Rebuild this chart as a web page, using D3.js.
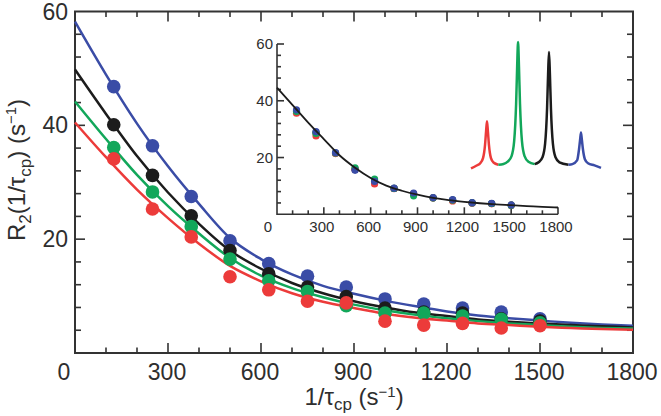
<!DOCTYPE html>
<html>
<head>
<meta charset="utf-8">
<script src="https://cdn.jsdelivr.net/npm/d3@7"></script>
<style>
  body { margin: 0; background: #fff; }
  svg { display: block; }
  text { font-family: "Liberation Sans Narrow", "Liberation Sans", Arial, sans-serif; fill: #2e2e2e; }
</style>
</head>
<body>
<div id="chart"></div>
<script>
// measured points, x in 1/tau_cp (s^-1)
var pointX = [125, 250, 375, 500, 625, 750, 875, 1000, 1125, 1250, 1375, 1500];
var bluePts = [46.8, 36.4, 27.5, 19.7, 15.7, 13.5, 11.6, 9.5, 8.6, 7.9, 7.2, 6.0];
var blackPts = [40.1, 31.2, 24.1, 18.0, 13.9, 11.6, 9.9, 7.9, 7.2, 7.0, 6.0, 5.6];
var greenPts = [36.1, 28.3, 22.2, 16.5, 12.7, 10.8, 8.3, 7.0, 7.0, 6.5, 5.9, 5.3];
var redPts = [34.1, 25.3, 20.4, 13.4, 11.1, 9.1, 8.8, 5.6, 4.9, 5.2, 4.4, 4.8];

// fitted curves
var curveX = [0, 100, 200, 300, 400, 500, 600, 700, 800, 900, 1000, 1100, 1200, 1300, 1400, 1500, 1600, 1700, 1800];
var blueFit = [58.2, 48.9, 40.3, 32.8, 26.2, 20.2, 16.5, 13.8, 11.8, 10.4, 9.2, 8.2, 7.3, 6.6, 6.1, 5.7, 5.3, 5.0, 4.8];
var blackFit = [49.8, 42.0, 34.6, 28.2, 22.7, 18.0, 14.8, 12.3, 10.5, 9.1, 8.0, 7.1, 6.5, 5.9, 5.5, 5.2, 4.9, 4.7, 4.5];
var greenFit = [44.2, 37.6, 31.3, 25.8, 21.0, 16.7, 13.6, 11.4, 9.8, 8.5, 7.5, 6.7, 6.1, 5.6, 5.2, 4.9, 4.6, 4.4, 4.3];
var redFit = [40.5, 34.4, 28.7, 23.7, 19.2, 15.3, 12.6, 10.5, 9.0, 7.9, 6.9, 6.2, 5.7, 5.2, 4.9, 4.6, 4.4, 4.2, 4.1];

// inset: scaled data collapsed onto one curve
var insetBlue = [36.8, 29.1, 21.7, 15.5, 11.6, 9.2, 7.5, 5.9, 5.2, 4.1, 3.9, 3.3];
var insetRed = [35.6, 27.6, 21.4, 15.8, 10.7, 9.0, 7.2, 5.8, 4.7, 3.9, 3.7, 3.2];
var insetGreen = [36.2, 28.5, 21.6, 16.4, 12.4, 9.1, 6.5, 5.8, 5.0, 4.0, 3.8, 3.2];
var insetBlack = [36.4, 28.8, 21.6, 15.8, 11.8, 9.1, 7.2, 5.8, 5.0, 4.0, 3.8, 3.2];
var insetFit = [44.6, 38.5, 32.3, 26.5, 20.8, 16.4, 12.8, 10.1, 8.3, 6.9, 5.8, 5.0, 4.4, 3.9, 3.5, 3.2, 2.9, 2.6, 2.4];

// spectrum segments [position, intensity], arbitrary units
var specRed = [[0, -2], [4, 0.2], [7.3, 2.5], [9.3, 6.5], [10.8, 17], [11.6, 28], [12.3, 36], [13, 28], [13.8, 17], [15.3, 6.5], [17.3, 2.8], [21, 1]];
var specGreen = [[21, 1], [25, 1.6], [28.2, 3.5], [31.2, 8], [33.2, 20], [34.7, 50], [35.5, 80], [36.2, 100], [36.9, 80], [37.7, 50], [39.2, 20], [41.2, 8], [44.2, 3.5], [49, 1.5]];
var specBlack = [[49, 1.5], [52, 3], [55, 7], [57, 18], [58.5, 46], [59.3, 74], [60, 92], [60.7, 74], [61.5, 46], [63, 18], [65, 7], [68, 3], [75, 1]];
var specBlue = [[75, 1], [78, 1.5], [81.6, 4.5], [83.1, 13.5], [83.9, 21], [84.6, 27], [85.3, 21], [86.1, 13.5], [87.6, 5.5], [90, 2.2], [95, 0.5], [100, -1.5]];

var xTicks = [0, 300, 600, 900, 1200, 1500, 1800];
var yTicks = [20, 40, 60];
var insetYTicks = [20, 40, 60];

var colors = { blue: '#3a4ca6', black: '#1c1c1c', green: '#12a75a', red: '#ec3b3a' };

var width = 661, height = 416;
var svg = d3.select('#chart').append('svg')
  .attr('width', width)
  .attr('height', height);

var x = d3.scaleLinear().domain([0, 1800]).range([75, 633]);
var y = d3.scaleLinear().domain([0, 60]).range([353, 11.5]);

var axisColor = '#333';

function drawTicks(g, scale, values, len, orient, pos) {
  values.forEach(function (v) {
    var p = scale(v);
    var line = g.append('line')
      .attr('stroke', axisColor)
      .attr('stroke-width', 1.6);
    if (orient === 'bottom') line.attr('x1', p).attr('x2', p).attr('y1', pos).attr('y2', pos - len);
    if (orient === 'top') line.attr('x1', p).attr('x2', p).attr('y1', pos).attr('y2', pos + len);
    if (orient === 'left') line.attr('y1', p).attr('y2', p).attr('x1', pos).attr('x2', pos + len);
    if (orient === 'right') line.attr('y1', p).attr('y2', p).attr('x1', pos).attr('x2', pos - len);
  });
}

// main frame
var frame = svg.append('g');
frame.append('rect')
  .attr('x', x(0))
  .attr('y', y(60))
  .attr('width', x(1800) - x(0))
  .attr('height', y(0) - y(60))
  .attr('fill', 'none')
  .attr('stroke', axisColor)
  .attr('stroke-width', 2);

var xMinor = d3.range(100, 1800, 100).filter(function (v) { return v % 300 !== 0; });
var xMajor = [300, 600, 900, 1200, 1500];
var yMinor = d3.range(4, 60, 4).filter(function (v) { return v % 20 !== 0; });
var yMajor = [20, 40];
drawTicks(frame, x, xMajor, 10, 'bottom', y(0));
drawTicks(frame, x, xMinor, 5.5, 'bottom', y(0));
drawTicks(frame, x, xMajor, 10, 'top', y(60));
drawTicks(frame, x, xMinor, 5.5, 'top', y(60));
drawTicks(frame, y, yMajor, 10, 'left', x(0));
drawTicks(frame, y, yMinor, 6, 'left', x(0));
drawTicks(frame, y, yMajor, 10, 'right', x(1800));
drawTicks(frame, y, yMinor, 6, 'right', x(1800));

frame.selectAll('.xlab')
  .data(xTicks)
  .enter().append('text')
  .attr('x', function (d) { return d === 0 ? x(d) - 11 : x(d) - 1; })
  .attr('y', 380)
  .attr('text-anchor', 'middle')
  .style('font-size', '23px')
  .text(function (d) { return d; });

frame.selectAll('.ylab')
  .data(yTicks)
  .enter().append('text')
  .attr('x', x(0) - 7)
  .attr('y', function (d) { return y(d) + 8; })
  .attr('text-anchor', 'end')
  .style('font-size', '23px')
  .text(function (d) { return d; });

// axis titles
var xt = svg.append('text')
  .attr('x', 354)
  .attr('y', 405)
  .attr('text-anchor', 'middle')
  .style('font-size', '24px');
xt.append('tspan').text('1/τ');
xt.append('tspan').attr('dy', 5).style('font-size', '17px').text('cp');
xt.append('tspan').attr('dy', -5).text(' (s');
xt.append('tspan').attr('dy', -8).style('font-size', '15px').text('−1');
xt.append('tspan').attr('dy', 8).text(')');

var yt = svg.append('text')
  .attr('transform', 'translate(25,170) rotate(-90)')
  .attr('text-anchor', 'middle')
  .style('font-size', '24px');
yt.append('tspan').text('R');
yt.append('tspan').attr('dy', 6).style('font-size', '17px').text('2');
yt.append('tspan').attr('dy', -6).text('(1/τ');
yt.append('tspan').attr('dy', 6).style('font-size', '17px').text('cp');
yt.append('tspan').attr('dy', -6).text(') (s');
yt.append('tspan').attr('dy', -9).style('font-size', '15px').text('−1');
yt.append('tspan').attr('dy', 9).text(')');

// curves and points
var series = [
  { name: 'blue', fit: blueFit, pts: bluePts },
  { name: 'black', fit: blackFit, pts: blackPts },
  { name: 'green', fit: greenFit, pts: greenPts },
  { name: 'red', fit: redFit, pts: redPts }
];

var line = d3.line()
  .x(function (d) { return x(d[0]); })
  .y(function (d) { return y(d[1]); })
  .curve(d3.curveMonotoneX);

var plot = svg.append('g');
series.forEach(function (s) {
  plot.append('path')
    .datum(curveX.map(function (v, i) { return [v, s.fit[i]]; }))
    .attr('d', line)
    .attr('fill', 'none')
    .attr('stroke', colors[s.name])
    .attr('stroke-width', 2.5);
});
series.forEach(function (s) {
  plot.selectAll('.pt-' + s.name)
    .data(pointX.map(function (v, i) { return [v, s.pts[i]]; }))
    .enter().append('circle')
    .attr('cx', function (d) { return x(d[0]); })
    .attr('cy', function (d) { return y(d[1]); })
    .attr('r', 6.8)
    .attr('fill', colors[s.name]);
});

// inset
var ix = d3.scaleLinear().domain([0, 1800]).range([277, 558]);
var iy = d3.scaleLinear().domain([0, 60]).range([214.3, 44]);
var inset = svg.append('g');
inset.append('path')
  .attr('d', 'M' + ix(0) + ',' + iy(60) + 'V' + iy(0) + 'H' + ix(1800))
  .attr('fill', 'none')
  .attr('stroke', axisColor)
  .attr('stroke-width', 1.6);
var ixMinor = d3.range(100, 1800, 100).filter(function (v) { return v % 300 !== 0; });
drawTicks(inset, ix, [300, 600, 900, 1200, 1500, 1800], 7, 'bottom', iy(0));
drawTicks(inset, ix, ixMinor, 4, 'bottom', iy(0));
drawTicks(inset, iy, [20, 40, 60], 7, 'left', ix(0));
drawTicks(inset, iy, d3.range(4, 60, 4).filter(function (v) { return v % 20 !== 0; }), 4, 'left', ix(0));

inset.selectAll('.ixlab')
  .data(xTicks)
  .enter().append('text')
  .attr('x', function (d) { return d === 0 ? ix(d) - 9 : ix(d) - 2; })
  .attr('y', 232)
  .attr('text-anchor', 'middle')
  .style('font-size', '15px')
  .text(function (d) { return d; });
inset.selectAll('.iylab')
  .data(insetYTicks)
  .enter().append('text')
  .attr('x', ix(0) - 4)
  .attr('y', function (d) { return iy(d) + 5; })
  .attr('text-anchor', 'end')
  .style('font-size', '15px')
  .text(function (d) { return d; });

var iline = d3.line()
  .x(function (d) { return ix(d[0]); })
  .y(function (d) { return iy(d[1]); })
  .curve(d3.curveMonotoneX);

[['black', insetBlack], ['red', insetRed], ['green', insetGreen], ['blue', insetBlue]].forEach(function (s) {
  inset.selectAll('.ipt-' + s[0])
    .data(pointX.map(function (v, i) { return [v, s[1][i]]; }))
    .enter().append('circle')
    .attr('cx', function (d) { return ix(d[0]); })
    .attr('cy', function (d) { return iy(d[1]); })
    .attr('r', 3.6)
    .attr('fill', colors[s[0]]);
});
inset.append('path')
  .datum(curveX.map(function (v, i) { return [v, insetFit[i]]; }))
  .attr('d', iline)
  .attr('fill', 'none')
  .attr('stroke', colors.black)
  .attr('stroke-width', 1.8);

// spectrum
var sx = d3.scaleLinear().domain([0, 100]).range([471, 601]);
var sy = d3.scaleLinear().domain([0, 100]).range([166, 42]);
var sline = d3.line()
  .x(function (d) { return sx(d[0]); })
  .y(function (d) { return sy(d[1]); })
  .curve(d3.curveMonotoneX);
[['red', specRed], ['green', specGreen], ['black', specBlack], ['blue', specBlue]].forEach(function (s) {
  svg.append('path')
    .datum(s[1])
    .attr('d', sline)
    .attr('fill', 'none')
    .attr('stroke', colors[s[0]])
    .attr('stroke-width', 2.5)
    .attr('stroke-linejoin', 'round');
});
</script>
</body>
</html>
